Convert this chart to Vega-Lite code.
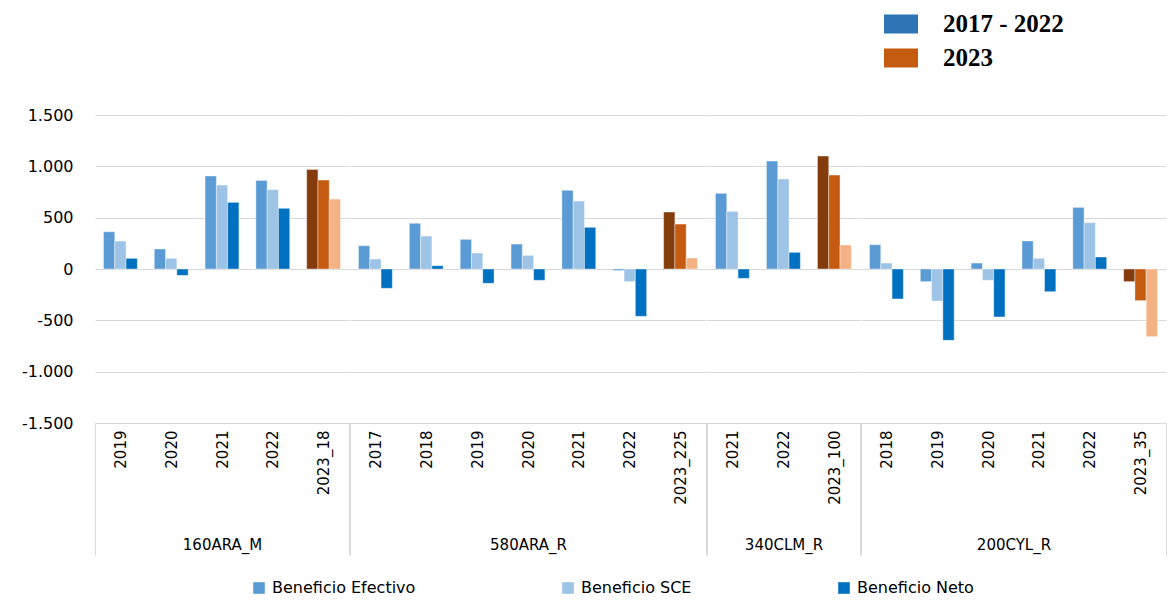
{
  "$schema": "https://vega.github.io/schema/vega-lite/v6.json",
  "padding": {"left": 21, "top": 7, "right": 4, "bottom": 4},
  "background": "white",
  "datasets": {
    "tabla": [
      {"grupo": "160ARA_M", "anio": "2019", "periodo": "2017 - 2022", "Beneficio Efectivo": 363, "Beneficio SCE": 272, "Beneficio Neto": 104},
      {"grupo": "160ARA_M", "anio": "2020", "periodo": "2017 - 2022", "Beneficio Efectivo": 195, "Beneficio SCE": 104, "Beneficio Neto": -62},
      {"grupo": "160ARA_M", "anio": "2021", "periodo": "2017 - 2022", "Beneficio Efectivo": 906, "Beneficio SCE": 818, "Beneficio Neto": 649},
      {"grupo": "160ARA_M", "anio": "2022", "periodo": "2017 - 2022", "Beneficio Efectivo": 863, "Beneficio SCE": 773, "Beneficio Neto": 591},
      {"grupo": "160ARA_M", "anio": "2023_18", "periodo": "2023", "Beneficio Efectivo": 970, "Beneficio SCE": 866, "Beneficio Neto": 681},
      {"grupo": "580ARA_R", "anio": "2017", "periodo": "2017 - 2022", "Beneficio Efectivo": 227, "Beneficio SCE": 97, "Beneficio Neto": -188},
      {"grupo": "580ARA_R", "anio": "2018", "periodo": "2017 - 2022", "Beneficio Efectivo": 445, "Beneficio SCE": 321, "Beneficio Neto": 32},
      {"grupo": "580ARA_R", "anio": "2019", "periodo": "2017 - 2022", "Beneficio Efectivo": 289, "Beneficio SCE": 156, "Beneficio Neto": -139},
      {"grupo": "580ARA_R", "anio": "2020", "periodo": "2017 - 2022", "Beneficio Efectivo": 243, "Beneficio SCE": 133, "Beneficio Neto": -110},
      {"grupo": "580ARA_R", "anio": "2021", "periodo": "2017 - 2022", "Beneficio Efectivo": 766, "Beneficio SCE": 662, "Beneficio Neto": 406},
      {"grupo": "580ARA_R", "anio": "2022", "periodo": "2017 - 2022", "Beneficio Efectivo": -15, "Beneficio SCE": -123, "Beneficio Neto": -461},
      {"grupo": "580ARA_R", "anio": "2023_225", "periodo": "2023", "Beneficio Efectivo": 555, "Beneficio SCE": 438, "Beneficio Neto": 107},
      {"grupo": "340CLM_R", "anio": "2021", "periodo": "2017 - 2022", "Beneficio Efectivo": 737, "Beneficio SCE": 561, "Beneficio Neto": -91},
      {"grupo": "340CLM_R", "anio": "2022", "periodo": "2017 - 2022", "Beneficio Efectivo": 1051, "Beneficio SCE": 876, "Beneficio Neto": 162},
      {"grupo": "340CLM_R", "anio": "2023_100", "periodo": "2023", "Beneficio Efectivo": 1100, "Beneficio SCE": 915, "Beneficio Neto": 234},
      {"grupo": "200CYL_R", "anio": "2018", "periodo": "2017 - 2022", "Beneficio Efectivo": 237, "Beneficio SCE": 58, "Beneficio Neto": -292},
      {"grupo": "200CYL_R", "anio": "2019", "periodo": "2017 - 2022", "Beneficio Efectivo": -123, "Beneficio SCE": -312, "Beneficio Neto": -695},
      {"grupo": "200CYL_R", "anio": "2020", "periodo": "2017 - 2022", "Beneficio Efectivo": 58, "Beneficio SCE": -110, "Beneficio Neto": -467},
      {"grupo": "200CYL_R", "anio": "2021", "periodo": "2017 - 2022", "Beneficio Efectivo": 273, "Beneficio SCE": 104, "Beneficio Neto": -221},
      {"grupo": "200CYL_R", "anio": "2022", "periodo": "2017 - 2022", "Beneficio Efectivo": 600, "Beneficio SCE": 451, "Beneficio Neto": 117},
      {"grupo": "200CYL_R", "anio": "2023_35", "periodo": "2023", "Beneficio Efectivo": -123, "Beneficio SCE": -308, "Beneficio Neto": -659}
    ]
  },
  "data": {"name": "tabla"},
  "transform": [
    {"fold": ["Beneficio Efectivo", "Beneficio SCE", "Beneficio Neto"], "as": ["serie", "valor"]},
    {"calculate": "datum.serie + ' · ' + datum.periodo", "as": "clave"}
  ],
  "spacing": -7,
  "hconcat": [
    {
      "width": 254, "height": 308,
      "transform": [{"filter": "datum.grupo === '160ARA_M'"}],
      "layer": [
        {
          "mark": {"type": "bar"},
          "encoding": {
            "x": {"field": "anio", "type": "nominal", "scale": {"paddingInner": 0, "paddingOuter": 0},
                  "axis": {"title": "160ARA_M"}},
            "xOffset": {"field": "serie", "type": "nominal", "sort": ["Beneficio Efectivo", "Beneficio SCE", "Beneficio Neto"],
                        "scale": {"paddingInner": 0, "paddingOuter": 0.75}},
            "y": {"field": "valor", "type": "quantitative", "scale": {"domain": [-1500, 1500], "nice": false},
                  "axis": {"values": [-1500, -1000, -500, 0, 500, 1000, 1500], "labels": true, "labelPadding": 22,
                           "labelExpr": "replace(replace(format(datum.value, ','), ',', '.'), '−', '-')"}},
            "color": {"field": "clave", "type": "nominal"}
          }
        },
        {
          "mark": {"type": "point", "filled": true, "opacity": 0},
          "encoding": {
            "x": {"field": "anio", "type": "nominal"},
            "y": {"field": "valor", "type": "quantitative", "scale": {"domain": [-1500, 1500], "nice": false}},
            "fill": {"field": "periodo", "type": "nominal",
                     "scale": {"domain": ["2017 - 2022", "2023"], "range": ["#2E75B6", "#C55A11"]},
                     "legend": {"orient": "none", "legendX": 789, "legendY": -108, "title": null, "direction": "vertical",
                                "symbolType": "M-1,-0.56L1,-0.56L1,0.56L-1,0.56Z", "symbolSize": 1156, "symbolOpacity": 1,
                                "symbolStrokeWidth": 0, "labelFont": "Liberation Serif", "labelFontSize": 25,
                                "labelFontWeight": "bold", "labelColor": "#000", "labelOffset": 25, "rowPadding": 4}}
          }
        }
      ]
    },
    {
      "width": 356, "height": 308,
      "transform": [{"filter": "datum.grupo === '580ARA_R'"}],
      "mark": {"type": "bar"},
      "encoding": {
        "x": {"field": "anio", "type": "nominal", "scale": {"paddingInner": 0, "paddingOuter": 0},
              "axis": {"title": "580ARA_R"}},
        "xOffset": {"field": "serie", "type": "nominal", "sort": ["Beneficio Efectivo", "Beneficio SCE", "Beneficio Neto"],
                    "scale": {"paddingInner": 0, "paddingOuter": 0.75}},
        "y": {"field": "valor", "type": "quantitative", "scale": {"domain": [-1500, 1500], "nice": false},
              "axis": {"values": [-1500, -1000, -500, 0, 500, 1000, 1500], "labels": false, "title": null}},
        "color": {"field": "clave", "type": "nominal"}
      }
    },
    {
      "width": 153, "height": 308,
      "transform": [{"filter": "datum.grupo === '340CLM_R'"}],
      "mark": {"type": "bar"},
      "encoding": {
        "x": {"field": "anio", "type": "nominal", "scale": {"paddingInner": 0, "paddingOuter": 0},
              "axis": {"title": "340CLM_R"}},
        "xOffset": {"field": "serie", "type": "nominal", "sort": ["Beneficio Efectivo", "Beneficio SCE", "Beneficio Neto"],
                    "scale": {"paddingInner": 0, "paddingOuter": 0.75}},
        "y": {"field": "valor", "type": "quantitative", "scale": {"domain": [-1500, 1500], "nice": false},
              "axis": {"values": [-1500, -1000, -500, 0, 500, 1000, 1500], "labels": false, "title": null}},
        "color": {"field": "clave", "type": "nominal"}
      }
    },
    {
      "width": 305, "height": 308,
      "transform": [{"filter": "datum.grupo === '200CYL_R'"}],
      "mark": {"type": "bar"},
      "encoding": {
        "x": {"field": "anio", "type": "nominal", "scale": {"paddingInner": 0, "paddingOuter": 0},
              "axis": {"title": "200CYL_R"}},
        "xOffset": {"field": "serie", "type": "nominal", "sort": ["Beneficio Efectivo", "Beneficio SCE", "Beneficio Neto"],
                    "scale": {"paddingInner": 0, "paddingOuter": 0.75}},
        "y": {"field": "valor", "type": "quantitative", "scale": {"domain": [-1500, 1500], "nice": false},
              "axis": {"values": [-1500, -1000, -500, 0, 500, 1000, 1500], "labels": false, "title": null}},
        "color": {"field": "clave", "type": "nominal",
                  "scale": {"domain": ["Beneficio Efectivo · 2017 - 2022", "Beneficio SCE · 2017 - 2022", "Beneficio Neto · 2017 - 2022",
                                       "Beneficio Efectivo · 2023", "Beneficio SCE · 2023", "Beneficio Neto · 2023"],
                            "range": ["#5B9BD5", "#9DC3E6", "#0070C0", "#843C0C", "#C55A11", "#F4B183"]},
                  "legend": {"orient": "none", "legendX": 156, "legendY": 465, "title": null, "direction": "horizontal",
                             "columns": 3, "columnPadding": 144,
                             "values": ["Beneficio Efectivo · 2017 - 2022", "Beneficio SCE · 2017 - 2022", "Beneficio Neto · 2017 - 2022"],
                             "labelExpr": "split(datum.label, ' · ')[0]",
                             "symbolType": "square", "symbolSize": 144, "symbolStrokeWidth": 0, "symbolOpacity": 1,
                             "labelFont": "DejaVu Sans", "labelFontSize": 16, "labelColor": "#000", "labelOffset": 5}}
      }
    }
  ],
  "config": {
    "view": {"stroke": null},
    "bar": {"stroke": "#ffffff", "strokeWidth": 0.4},
    "axisY": {"domain": false, "ticks": false, "grid": true, "gridColor": "#d9d9d9", "gridWidth": 1,
              "labelFont": "DejaVu Sans", "labelFontSize": 16, "labelColor": "#000", "title": null},
    "axisX": {
      "labelAngle": -90, "labelAlign": "right", "labelBaseline": "middle",
      "labelFont": "DejaVu Sans", "labelFontSize": 15, "labelColor": "#000",
      "titleFont": "DejaVu Sans", "titleFontSize": 15, "titleFontWeight": "normal", "titleColor": "#000",
      "domainColor": "#d9d9d9", "domainWidth": 1,
      "tickBand": "extent", "tickSize": 132, "tickWidth": 1,
      "tickColor": {"condition": {"test": "datum.index < 0 || datum.index === 1", "value": "#d9d9d9"}, "value": "transparent"},
      "labelPadding": -125, "titlePadding": -18, "grid": false
    }
  }
}
